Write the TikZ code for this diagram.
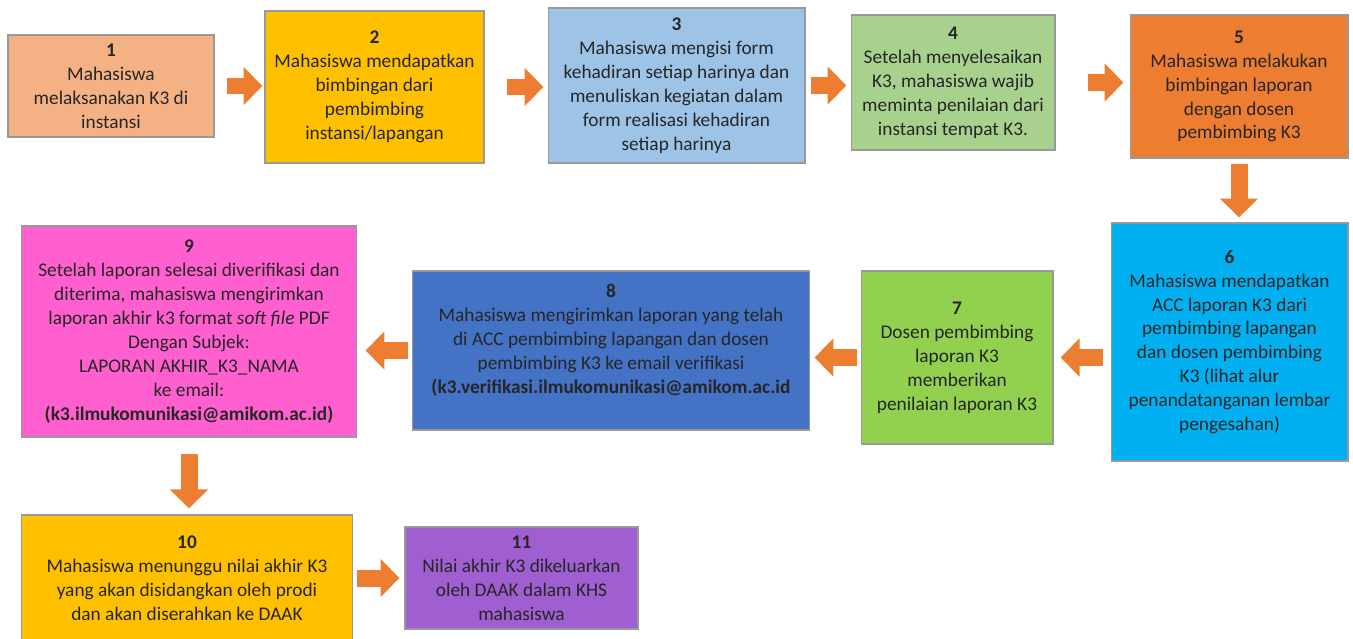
\documentclass[tikz,border=0pt]{standalone}
\usepackage{fontspec}
\setmainfont{Carlito}
\usepackage{xcolor}
\usetikzlibrary{arrows.meta}

\definecolor{warna1}{HTML}{F4B183}
\definecolor{warna2}{HTML}{FFC000}
\definecolor{warna3}{HTML}{9DC3E6}
\definecolor{warna4}{HTML}{A9D18E}
\definecolor{warna5}{HTML}{ED7D31}
\definecolor{warna6}{HTML}{00B0F0}
\definecolor{warna7}{HTML}{92D050}
\definecolor{warna8}{HTML}{4472C4}
\definecolor{warna9}{HTML}{FF5FCF}
\definecolor{warna11}{HTML}{9F5FD0}
\definecolor{panah}{HTML}{ED7D31}

\begin{document}
\begin{tikzpicture}[
    x=0.02cm, y=-0.02cm,
    block/.style={draw=black!40, line width=0.6pt, rectangle, align=center, text=black!85, inner sep=2pt, font=\fontsize{11}{13.6}\selectfont},
    arrow/.style={draw=panah, line width=0.34cm, -{Triangle[width=0.74cm,length=0.38cm]}}
]
\useasboundingbox (0,0) rectangle (1353,639);
\clip (0,0) rectangle (1353,639);

% baris atas
\node[block, fill=warna1, minimum width=4.12cm, minimum height=2.04cm] (laksana) at (111,86) {\textbf{1}\\Mahasiswa\\melaksanakan K3 di\\instansi};
\node[block, fill=warna2, minimum width=4.38cm, minimum height=3.04cm] (bimbing) at (374.5,87) {\textbf{2}\\Mahasiswa mendapatkan\\bimbingan dari\\pembimbing\\instansi/lapangan};
\node[block, fill=warna3, minimum width=5.14cm, minimum height=3.10cm] (hadir) at (676.5,85.5) {\textbf{3}\\Mahasiswa mengisi form\\kehadiran setiap harinya dan\\menuliskan kegiatan dalam\\form realisasi kehadiran\\setiap harinya};
\node[block, fill=warna4, minimum width=4.08cm, minimum height=2.70cm] (nilaiinst) at (953,82.5) {\textbf{4}\\Setelah menyelesaikan\\K3, mahasiswa wajib\\meminta penilaian dari\\instansi tempat K3.};
\node[block, fill=warna5, minimum width=4.36cm, minimum height=2.86cm] (bimlap) at (1239,86.5) {\textbf{5}\\Mahasiswa melakukan\\bimbingan laporan\\dengan dosen\\pembimbing K3};

% baris tengah
\node[block, fill=warna6, minimum width=4.74cm, minimum height=4.76cm] (acc) at (1229.5,342) {\textbf{6}\\Mahasiswa mendapatkan\\ACC laporan K3 dari\\pembimbing lapangan\\dan dosen pembimbing\\K3 (lihat alur\\penandatanganan lembar\\pengesahan)};
\node[block, fill=warna7, minimum width=3.84cm, minimum height=3.46cm] (nilaidosen) at (957,357.5) {\textbf{7}\\Dosen pembimbing\\laporan K3\\memberikan\\penilaian laporan K3};
\node[block, fill=warna8, minimum width=7.96cm, minimum height=3.18cm] (verif) at (611,350.5) {\textbf{8}\\Mahasiswa mengirimkan laporan yang telah\\di ACC pembimbing lapangan dan dosen\\pembimbing K3 ke email verifikasi\\\textbf{(k3.verifikasi.ilmukomunikasi@amikom.ac.id}\\ \mbox{}};
\node[block, fill=warna9, minimum width=6.72cm, minimum height=4.22cm] (akhir) at (189,331.5) {\textbf{9}\\Setelah laporan selesai diverifikasi dan\\diterima, mahasiswa mengirimkan\\laporan akhir k3 format \textit{soft file} PDF\\Dengan Subjek:\\LAPORAN AKHIR\_K3\_NAMA\\ke email:\\\textbf{(k3.ilmukomunikasi@amikom.ac.id)}};

% baris bawah
\node[block, fill=warna2, minimum width=6.64cm, minimum height=2.52cm] (tunggu) at (187,578) {\textbf{10}\\Mahasiswa menunggu nilai akhir K3\\yang akan disidangkan oleh prodi\\dan akan diserahkan ke DAAK};
\node[block, fill=warna11, minimum width=4.66cm, minimum height=2.04cm] (khs) at (521.5,578) {\textbf{11}\\Nilai akhir K3 dikeluarkan\\oleh DAAK dalam KHS\\mahasiswa};

\draw[arrow, shorten <=0.24cm, shorten >=0.04cm] (laksana.east) -- (laksana.east -| bimbing.west);
\draw[arrow, shorten <=0.44cm, shorten >=0.08cm] (bimbing.east) -- (bimbing.east -| hadir.west);
\draw[arrow, shorten <=0.10cm, shorten >=0.08cm] (hadir.east) -- (hadir.east -| nilaiinst.west);
\draw[arrow, shorten <=0.64cm, shorten >=0.12cm] (nilaiinst.east) -- (nilaiinst.east -| bimlap.west);
\draw[arrow, shorten <=0.10cm, shorten >=0.10cm] (bimlap.south) -- (bimlap.south |- acc.north);
\draw[arrow, shorten <=0.16cm, shorten >=0.14cm] (acc.west |- nilaidosen.east) -- (nilaidosen.east);
\draw[arrow, shorten <=0.08cm, shorten >=0.08cm] (nilaidosen.west) -- (nilaidosen.west -| verif.east);
\draw[arrow, shorten <=0.08cm, shorten >=0.16cm] (verif.west) -- (verif.west -| akhir.east);
\draw[arrow, shorten <=0.32cm, shorten >=0.12cm] (akhir.south) -- (akhir.south |- tunggu.north);
\draw[arrow, yshift=0.24cm, shorten <=0.08cm, shorten >=0.10cm] (tunggu.east) -- (tunggu.east -| khs.west);
\end{tikzpicture}
\end{document}
